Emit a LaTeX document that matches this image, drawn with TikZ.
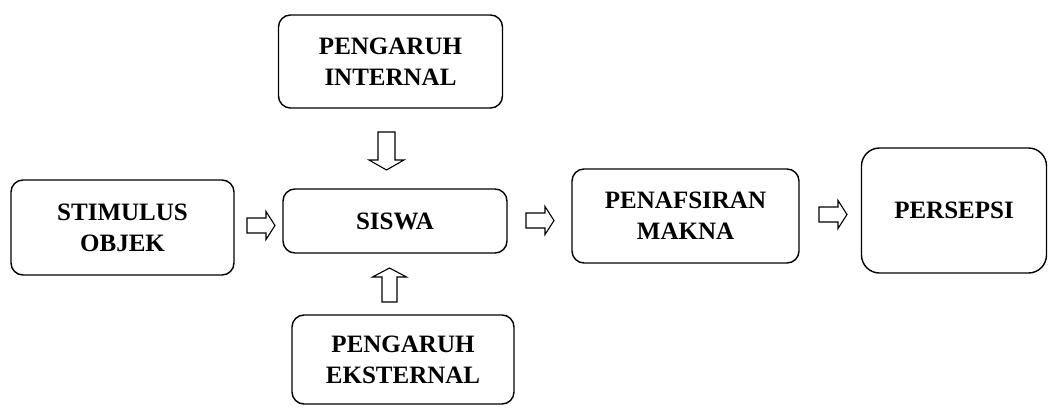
\documentclass[tikz,border=0pt]{standalone}
\usepackage{fontspec}
\setmainfont{Liberation Serif}
\newcommand{\rblockarrow}[1]{%
  \draw[barrow] (#1) ++(0,-7.5) -- ++(19,0) -- ++(0,-6.5) -- ++(9,14) -- ++(-9,14) -- ++(0,-6.5) -- ++(-19,0) -- cycle;}
\begin{document}
\begin{tikzpicture}[x=1pt,y=-1pt,
  box/.style={draw, line width=1.4pt, rounded corners=12pt, align=center,
    font=\fontsize{25}{31}\selectfont\bfseries, inner sep=0pt},
  barrow/.style={draw, line width=1.1pt, fill=white, line join=miter}]
\useasboundingbox (0,0) rectangle (1048,407);
\node[box, minimum width=224pt, minimum height=93pt] (int) at (390.5,61.5) {PENGARUH\\INTERNAL};
\node[box, minimum width=223pt, minimum height=95pt] (stim) at (122.5,227.5) {STIMULUS\\OBJEK};
\node[box, minimum width=224pt, minimum height=64pt] (siswa) at (395,221) {SISWA};
\node[box, minimum width=227pt, minimum height=94pt] (makna) at (685.5,216) {PENAFSIRAN\\MAKNA};
\node[box, minimum width=185pt, minimum height=125pt, rounded corners=18pt] (pers) at (954,210.5) {PERSEPSI};
\node[box, minimum width=222pt, minimum height=89pt] (eks) at (403,359.5) {PENGARUH\\EKSTERNAL};
% block arrows
\coordinate (a1) at (247,225.5);
\coordinate (a2) at (526,220.5);
\coordinate (a3) at (819,214.5);
\coordinate (dn) at (386.5,132);
\coordinate (up) at (389.5,302);
\rblockarrow{a1}
\rblockarrow{a2}
\rblockarrow{a3}
\draw[barrow] (dn) ++(-8.5,0) -- ++(0,28) -- ++(-9,0) -- ++(17.5,10) -- ++(17.5,-10) -- ++(-9,0) -- ++(0,-28) -- cycle;
\draw[barrow] (up) ++(-7.5,0) -- ++(0,-25) -- ++(-9.5,0) -- ++(17,-9) -- ++(17,9) -- ++(-9.5,0) -- ++(0,25) -- cycle;
\end{tikzpicture}
\end{document}
